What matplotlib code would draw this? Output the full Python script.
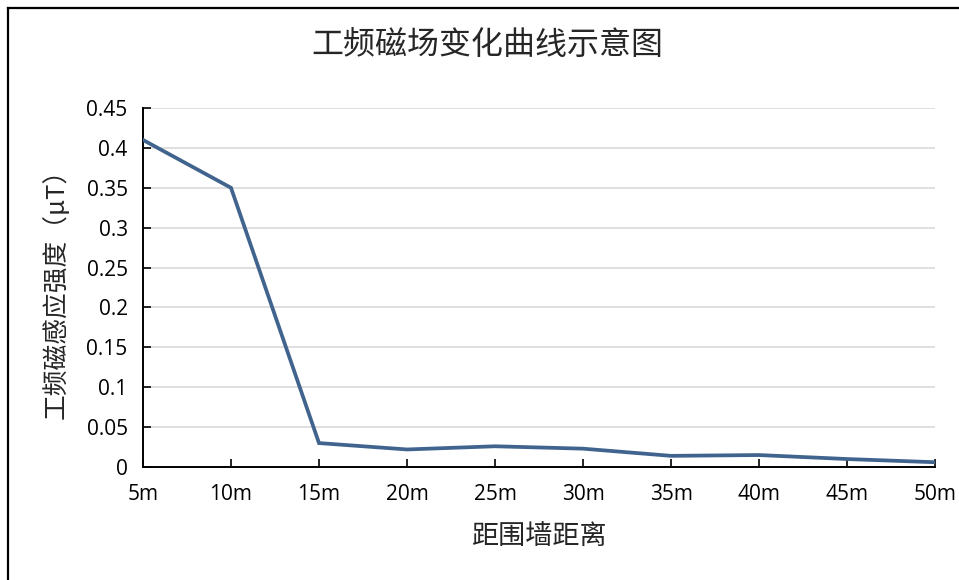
import matplotlib
matplotlib.use('Agg')
import matplotlib.pyplot as plt
from matplotlib.lines import Line2D

plt.rcParams['font.family'] = ['Noto Sans CJK SC', 'DejaVu Sans']

# data
distances = ['5m', '10m', '15m', '20m', '25m', '30m', '35m', '40m', '45m', '50m']
field = [0.41, 0.35, 0.030, 0.022, 0.026, 0.023, 0.014, 0.015, 0.010, 0.006]
yticks = [0, 0.05, 0.1, 0.15, 0.2, 0.25, 0.3, 0.35, 0.4, 0.45]
ytick_labels = ['0', '0.05', '0.1', '0.15', '0.2', '0.25', '0.3', '0.35', '0.4', '0.45']

fig = plt.figure(figsize=(9.59, 5.80), dpi=100)
ax = fig.add_axes([0.1491, 0.1948, 0.975 - 0.1491, 0.8138 - 0.1948])

x = list(range(len(distances)))
ax.plot(x, field, color='#41648F', lw=2.7, solid_joinstyle='miter', zorder=3)

ax.set_xlim(0, len(distances) - 1)
ax.set_ylim(0, 0.45)
ax.set_xticks(x)
ax.set_xticklabels(distances, fontsize=15, family='Open Sans')
ax.set_yticks(yticks)
ax.set_yticklabels(ytick_labels, fontsize=15, family='Open Sans')
ax.tick_params(direction='in', length=6, width=1.2, colors='black')
ax.tick_params(axis='x', pad=12)
ax.tick_params(axis='y', pad=11)

ax.grid(axis='y', color='#D9D9D9', lw=1.2)
ax.set_axisbelow(True)
for s in ['top', 'right']:
    ax.spines[s].set_visible(False)
for s in ['left', 'bottom']:
    ax.spines[s].set_linewidth(1.4)

ax.set_xlabel('距围墙距离', fontsize=19.5, color='#262626', labelpad=14)
ax.set_ylabel('工频磁感应强度（μT）', fontsize=18.5, color='#262626', labelpad=12)
fig.text(0.508, 0.922, '工频磁场变化曲线示意图', fontsize=23, color='#262626',
         ha='center', va='center')

# outer frame (only top and left edges visible in the reference)
fig.add_artist(Line2D([0.0085, 0.0085], [0.0, 0.986], color='black', lw=1.6, transform=fig.transFigure))
fig.add_artist(Line2D([0.0085, 1.0], [0.986, 0.986], color='black', lw=1.6, transform=fig.transFigure))

fig.savefig('out.png', dpi=100)
